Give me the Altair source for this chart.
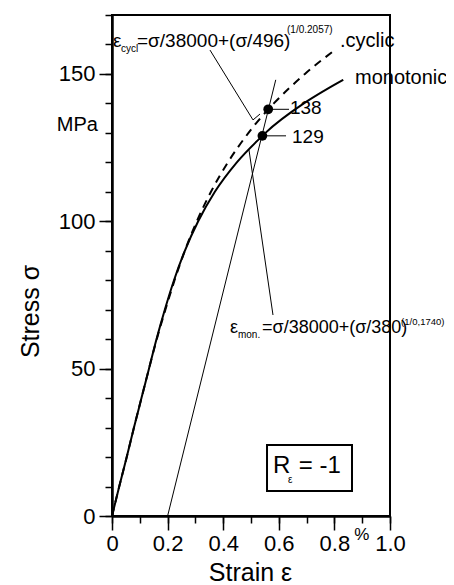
import altair as alt
import pandas as pd

FONT = "Liberation Sans"

# monotonic stress-strain curve (strain in %, stress in MPa)
mono_strain = [0, 0.026, 0.053, 0.079, 0.106, 0.133, 0.160, 0.190, 0.223, 0.262, 0.310, 0.370, 0.449, 0.541, 0.552, 0.690, 0.776, 0.832]
mono_stress = [0, 10, 20, 30, 40, 50, 60, 70, 80, 90, 100, 110, 120, 129, 130, 140, 145, 148]
# cyclic stress-strain curve
cyc_strain = [0, 0.026, 0.053, 0.079, 0.106, 0.133, 0.161, 0.192, 0.225, 0.262, 0.305, 0.356, 0.417, 0.491, 0.562, 0.582, 0.694, 0.800]
cyc_stress = [0, 10, 20, 30, 40, 50, 60, 70, 80, 90, 100, 110, 120, 130, 138, 140, 150, 158]
# 0.2 % offset line
offset_strain = [0.2, 0.589]
offset_stress = [0, 148]
# yield points
pt_strain = [0.541, 0.562]
pt_stress = [129, 138]
# leader lines (x, y) -> (x2, y2)
ld_x = [0.541, 0.562, 0.3525, 0.5072, 0.5791]
ld_y = [129, 138, 158.1, 134.4, 68.2]
ld_x2 = [0.626, 0.6367, 0.5072, 0.5324, 0.4928]
ld_y2 = [129, 138, 134.4, 136.4, 124.2]
# box around R
box_x, box_x2, box_y, box_y2 = [0.5576], [0.8633], [24.1], [8.5]

# axis ticks
x_major = [0, 0.2, 0.4, 0.6, 0.8, 1.0]
x_minor = [0, 0.1, 0.2, 0.3, 0.4, 0.5, 0.6, 0.7, 0.8, 0.9, 1.0]
y_major = [0, 50, 100, 150]
y_minor = [0, 10, 20, 30, 40, 50, 60, 70, 80, 90, 100, 110, 120, 130, 140, 150, 160, 170]

# annotation texts (left aligned, alphabetic baseline)
t1_text = ["ε", "cycl", "=σ/38000+(σ/496)", "(1/0.2057)", ".cyclic", "monotonic",
           "ε", "mon.", "=σ/38000+(σ/380)", "(1/0,1740)", "R", "ε", "= -1"]
t1_x = [0.0036, 0.032, 0.09, 0.6295, 0.820, 0.874,
        0.4245, 0.453, 0.5396, 1.040, 0.5791, 0.633, 0.672]
t1_y = [159.1, 157.4, 159.1, 163.9, 159.1, 146.6,
        62.1, 60.4, 62.1, 64.8, 14.6, 11.2, 14.6]
t1_size = [19, 10, 19, 10, 20, 20, 18, 10, 18, 9.5, 24, 10, 24]
# value labels (left aligned, middle baseline)
t2_text = ["138", "129"]
t2_x = [0.640, 0.6475]
t2_y = [138.4, 128.6]
# unit labels
mpa_x, mpa_y = [-0.0504], [132.7]
pct_x, pct_y = [0.899], [-6.4]

xs = alt.Scale(domain=[0, 1], nice=False, zero=False)
ys = alt.Scale(domain=[0, 170], nice=False, zero=False)

xaxis = alt.Axis(
    orient="bottom", values=x_major, tickSize=14,
    labelExpr="datum.value === 0 ? '0' : format(datum.value, '.1f')",
    labelOverlap=False, labelFlush=False, labelPadding=3, labelFontSize=22,
    title="Strain ε", titleFontSize=25, titleX=138, titleY=64, titleAlign="center",
    titleBaseline="alphabetic", grid=False,
)
yaxis = alt.Axis(
    orient="left", values=y_major, tickSize=13, format="d",
    labelOverlap=False, labelFlush=False, labelPadding=4, labelFontSize=22,
    title="Stress σ", titleFontSize=25, titleX=-74, titleY=296, titleAlign="center",
    titleBaseline="alphabetic", titleAngle=270, grid=False,
)
xaxis_minor = alt.Axis(orient="bottom", values=x_minor, tickSize=7, labels=False, title=None, grid=False)
yaxis_minor = alt.Axis(orient="left", values=y_minor, tickSize=7, labels=False, title=None, grid=False)

mono_df = pd.DataFrame({"x": mono_strain, "y": mono_stress})
cyc_df = pd.DataFrame({"x": cyc_strain, "y": cyc_stress})
off_df = pd.DataFrame({"x": offset_strain, "y": offset_stress})
pt_df = pd.DataFrame({"x": pt_strain, "y": pt_stress})
ld_df = pd.DataFrame({"x": ld_x, "y": ld_y, "x2": ld_x2, "y2": ld_y2})
box_df = pd.DataFrame({"x": box_x, "x2": box_x2, "y": box_y, "y2": box_y2})
t1_df = pd.DataFrame({"x": t1_x, "y": t1_y, "t": t1_text, "s": t1_size})
t2_df = pd.DataFrame({"x": t2_x, "y": t2_y, "t": t2_text})
mpa_df = pd.DataFrame({"x": mpa_x, "y": mpa_y, "t": ["MPa"]})
pct_df = pd.DataFrame({"x": pct_x, "y": pct_y, "t": ["%"]})


def X(axis=None):
    return alt.X("x:Q", scale=xs, axis=axis)


def Y(axis=None):
    return alt.Y("y:Q", scale=ys, axis=axis)


mono = alt.Chart(mono_df).mark_line(color="black", strokeWidth=2, interpolate="monotone").encode(
    x=X(xaxis), y=Y(yaxis))
cyc = alt.Chart(cyc_df).mark_line(color="black", strokeWidth=2, strokeDash=[8, 6], interpolate="monotone").encode(
    x=X(), y=Y())
off = alt.Chart(off_df).mark_line(color="black", strokeWidth=1).encode(
    x=X(xaxis_minor), y=Y(yaxis_minor))
lead = alt.Chart(ld_df).mark_rule(color="black", strokeWidth=1).encode(
    x=X(), y=Y(), x2="x2:Q", y2="y2:Q")
pts = alt.Chart(pt_df).mark_circle(color="black", size=95, opacity=1).encode(x=X(), y=Y())
box = alt.Chart(box_df).mark_rect(fill="white", stroke="black", strokeWidth=2).encode(
    x=X(), y=Y(), x2="x2:Q", y2="y2:Q")
t1 = alt.Chart(t1_df).mark_text(align="left", baseline="alphabetic", font=FONT, color="black").encode(
    x=X(), y=Y(), text="t:N", size=alt.Size("s:Q", scale=None, legend=None))
t2 = alt.Chart(t2_df).mark_text(align="left", baseline="middle", font=FONT, fontSize=19, color="black").encode(
    x=X(), y=Y(), text="t:N")
mpa = alt.Chart(mpa_df).mark_text(align="right", baseline="middle", font=FONT, fontSize=20, color="black").encode(
    x=X(), y=Y(), text="t:N")
pct = alt.Chart(pct_df).mark_text(align="center", baseline="middle", font=FONT, fontSize=17, color="black").encode(
    x=X(), y=Y(), text="t:N")

chart = alt.layer(mono, cyc, off, lead, pts, box, t1, t2, mpa, pct).resolve_axis(
    x="independent", y="independent"
).properties(
    width=278, height=501, autosize="none",
    padding={"left": 104, "top": 7, "right": 56, "bottom": 70},
).configure_view(stroke="black", strokeWidth=2).configure_axis(
    domainColor="black", domainWidth=2, tickColor="black", tickWidth=1.5,
    labelFont=FONT, labelColor="black", titleFont=FONT, titleColor="black",
    titleFontWeight="normal",
)

chart.save("out.html", embed_options={"renderer": "svg", "actions": False})
